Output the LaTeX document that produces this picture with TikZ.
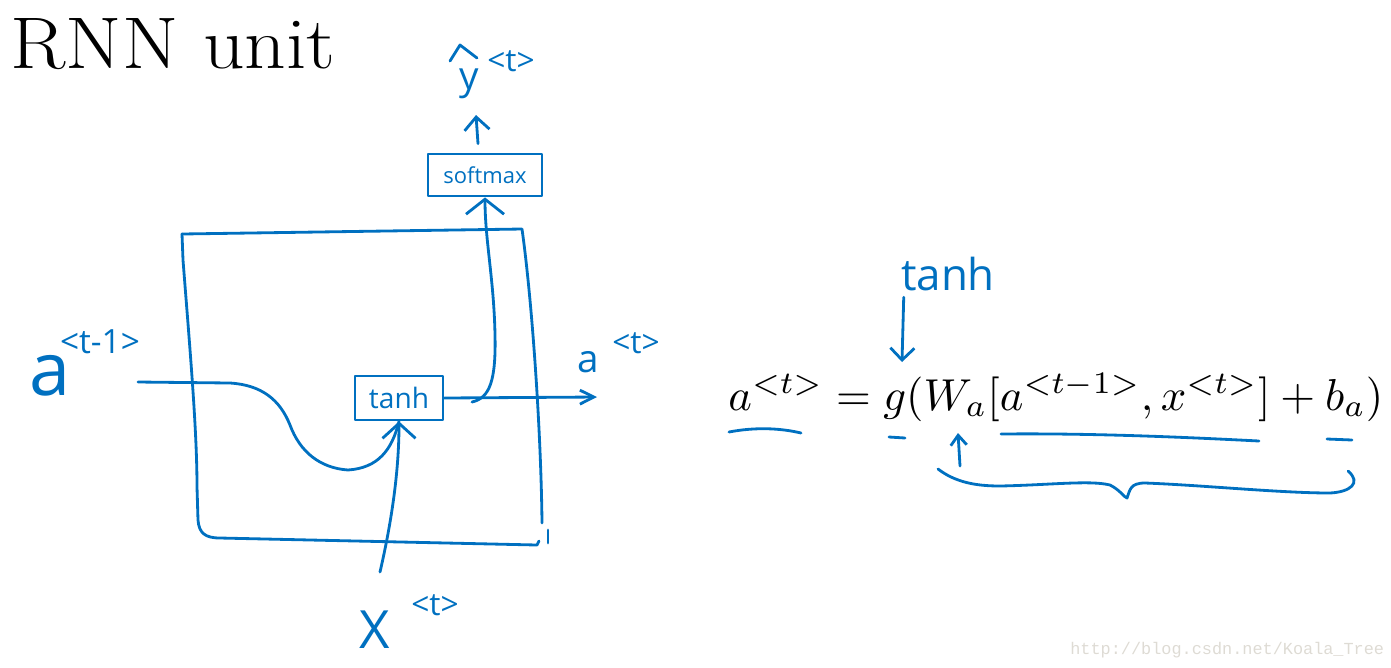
\documentclass[tikz,border=0pt]{standalone}
\usepackage{fontspec}
\usepackage{graphicx}
\usetikzlibrary{arrows.meta}
\newfontfamily\handfont{Open Sans}
\newfontfamily\wmfont{Liberation Mono}
\definecolor{ink}{RGB}{0,112,192}
\definecolor{wmgray}{RGB}{222,219,212}
\tikzset{
  ink/.style={draw=ink, line width=1.6pt, line cap=round, line join=round},
  hand/.style={text=ink, inner sep=0pt},
  handbox/.style={ink, hand, rectangle, inner sep=0pt},
  fs/.style={font=\handfont\fontsize{#1}{#1}\selectfont}
}
\begin{document}
\begin{tikzpicture}[x=0.02cm, y=-0.02cm]
\useasboundingbox (0,0) rectangle (1391,667);
% title
\node[anchor=base west, inner sep=0, font=\fontsize{42}{50}\selectfont] (title) at (10,68) {\resizebox{6.5cm}{1.0cm}{RNN unit}};

% cell outline
\draw[ink] (182,234) -- (522,229) .. controls (532,300) and (541,430) .. (542,523);
\draw[ink] (182,234) -- (183,260) .. controls (190,350) and (197,430) .. (197,487) -- (198,520)
  .. controls (199,533) and (205,538) .. (220,538) -- (537,545) -- (539,541);
\draw[ink] (548,530) -- (548,543);

% boxes
\node[handbox, minimum width=1.76cm, minimum height=0.88cm, fs=16] (tanhbox) at (399,398) {tanh};
\node[handbox, minimum width=2.28cm, minimum height=0.84cm, fs=12.5] (softbox) at (485,175) {softmax};

% labels
\node[hand, fs=42] (aprev) at (50,376) {a};
\node[hand, fs=19] (aprevsup) at (100,342) {<t-1>};
\node[hand, fs=30] (xlab) at (375,630) {X};
\node[hand, fs=18] (xsup) at (435,605) {<t>};
\node[hand, fs=22] (aoutlab) at (588,362) {a};
\node[hand, fs=18] (aoutsup) at (636,343) {<t>};
\node[hand, fs=22] (ylab) at (469,84) {y};
\node[hand, fs=18] (ysup) at (511,61) {<t>};
\draw[ink] (450,61) -- (460,45) -- (477,58);

% connectors
\coordinate (ain) at (138,382);
\draw[ink] (ain) -- (230,383) .. controls (262,385) and (280,400) .. (290,425)
  .. controls (300,452) and (320,468) .. (348,470) .. controls (378,468) and (392,450) .. (tanhbox.south);
\coordinate (xin) at (380,572);
\draw[ink, -{Straight Barb[length=0.3cm,width=0.66cm]}] (xin) .. controls (392,520) and (399,470) .. (tanhbox.south);
\coordinate (aout) at (597,397);
\draw[ink, -{Straight Barb[length=0.28cm,width=0.28cm]}] (tanhbox.east) -- (aout);
\coordinate (split) at (472,402);
\draw[ink, -{Straight Barb[length=0.3cm,width=0.76cm]}] (split) .. controls (490,398) and (496,380) .. (495,335)
  .. controls (494,280) and (485,240) .. (softbox.south);
\coordinate (ytip) at (476,115);
\draw[ink, -{Straight Barb[length=0.26cm,width=0.5cm]}] ([shift={(-7,-9)}]softbox.north) -- (ytip);

% equation
\node[anchor=base west, inner sep=0] (eq) at (728,410)
  {\resizebox{13.1cm}{!}{$a^{<t>} = g(W_a[a^{<t-1>},x^{<t>}]+b_a)$}};
\node[hand, fs=25] (tanhR) at (948,274) {tanh};
\coordinate (gtip) at (902,362);
\draw[ink, -{Straight Barb[length=0.24cm,width=0.48cm]}] ([shift={(3,6)}]tanhR.south west) -- (gtip);

% annotations on the equation
\draw[ink] (729,432) .. controls (755,427) and (780,428) .. (801,433);
\draw[ink] (889,437) -- (905,438);
\draw[ink] (1001,434) .. controls (1100,433) and (1200,438) .. (1259,441);
\draw[ink] (1327,439) -- (1352,440);
\coordinate (wtip) at (958,433);
\draw[ink, -{Straight Barb[length=0.2cm,width=0.32cm]}] (960,466) -- (wtip);
\draw[ink] (938,469) .. controls (955,482) and (975,486) .. (1000,486)
  .. controls (1050,485) and (1090,480) .. (1110,485)
  .. controls (1120,490) and (1125,498) .. (1127,498)
  .. controls (1130,490) and (1130,483) .. (1145,483)
  .. controls (1200,485) and (1280,493) .. (1330,493)
  .. controls (1350,492) and (1362,483) .. (1348,471);

% watermark
\node[anchor=base west, inner sep=0, text=wmgray, font=\wmfont\fontsize{9.6}{11}\selectfont] (wm) at (1070,654) {http://blog.csdn.net/Koala\_Tree};
\end{tikzpicture}
\end{document}
